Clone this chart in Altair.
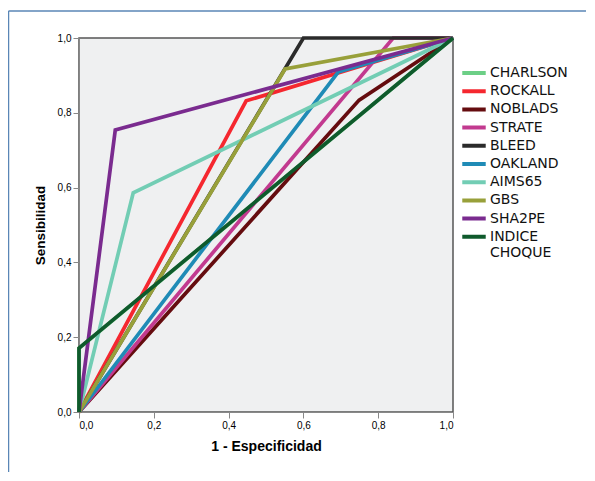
import altair as alt
import pandas as pd

series = ["CHARLSON", "ROCKALL", "NOBLADS", "STRATE", "BLEED", "OAKLAND",
          "AIMS65", "GBS", "SHA2PE", "INDICE CHOQUE"]
colors = ["#6ccf86", "#f5272f", "#650c0f", "#c23a8f", "#2b2b2b", "#1f8bb6",
          "#72cdb4", "#98a03a", "#7a2b8f", "#0f5a2c"]

fpr = {
    "CHARLSON":      [0.0, 0.0, 1.0],
    "ROCKALL":       [0.0, 0.447, 1.0],
    "NOBLADS":       [0.0, 0.749, 1.0],
    "STRATE":        [0.0, 0.84, 1.0],
    "BLEED":         [0.0, 0.60, 1.0],
    "OAKLAND":       [0.0, 0.693, 1.0],
    "AIMS65":        [0.0, 0.145, 1.0],
    "GBS":           [0.0, 0.551, 1.0],
    "SHA2PE":        [0.0, 0.097, 1.0],
    "INDICE CHOQUE": [0.0, 0.0, 1.0],
}
tpr = {
    "CHARLSON":      [0.0, 0.17, 1.0],
    "ROCKALL":       [0.0, 0.832, 1.0],
    "NOBLADS":       [0.0, 0.834, 1.0],
    "STRATE":        [0.0, 1.0, 1.0],
    "BLEED":         [0.0, 1.0, 1.0],
    "OAKLAND":       [0.0, 0.909, 1.0],
    "AIMS65":        [0.0, 0.586, 1.0],
    "GBS":           [0.0, 0.917, 1.0],
    "SHA2PE":        [0.0, 0.754, 1.0],
    "INDICE CHOQUE": [0.0, 0.171, 1.0],
}

rows = []
for s in series:
    for i, (x, y) in enumerate(zip(fpr[s], tpr[s])):
        rows.append({"serie": s, "x": x, "y": y, "i": i})
df = pd.DataFrame(rows)

FONT = "DejaVu Sans"

lines = alt.Chart(df).mark_line(strokeWidth=3.7, clip=False).encode(
    x=alt.X("x:Q", scale=alt.Scale(domain=[0, 1], nice=False),
            axis=alt.Axis(values=[0, 0.2, 0.4, 0.6, 0.8, 1.0], grid=False,
                          labelExpr="replace(format(datum.value, '.1f'), '.', ',')",
                          title="1 - Especificidad", tickSize=6, titlePadding=9,
                          titleFontSize=14)),
    y=alt.Y("y:Q", scale=alt.Scale(domain=[0, 1], nice=False),
            axis=alt.Axis(values=[0, 0.2, 0.4, 0.6, 0.8, 1.0], grid=False,
                          labelExpr="replace(format(datum.value, '.1f'), '.', ',')",
                          title="Sensibilidad", tickSize=6, titlePadding=10,
                          titleFontSize=13.5)),
    color=alt.Color("serie:N", scale=alt.Scale(domain=series, range=colors),
                    sort=series,
                    legend=alt.Legend(
                        title=None, orient="none", legendX=381, legendY=27,
                        symbolType="stroke", symbolStrokeWidth=4, symbolSize=550,
                        clipHeight=16, rowPadding=2.2, padding=0, labelOffset=2,
                        labelFontSize=14, labelFont=FONT, labelColor="#111",
                        labelLimit=200,
                        labelExpr="datum.label == 'INDICE CHOQUE' ? ['INDICE', 'CHOQUE'] : datum.label")),
    order=alt.Order("i:Q"),
    detail="serie:N",
)

frame_df = pd.DataFrame({"k": [0]})
frame_left = alt.Chart(frame_df).mark_rule(color="#5a86b6", strokeWidth=1.5).encode(
    x=alt.value(-70.5), y=alt.value(-27), y2=alt.value(500))
frame_top = alt.Chart(frame_df).mark_rule(color="#5a86b6", strokeWidth=1.5).encode(
    x=alt.value(-70.5), x2=alt.value(600), y=alt.value(-27))

chart = alt.layer(frame_left, frame_top, lines).properties(
    width=374, height=374,
    padding={"left": 71, "top": 30, "right": 133, "bottom": 60},
    autosize=alt.AutoSizeParams(type="none"),
    view=alt.ViewBackground(fill="#eff0f1", stroke="#555555", strokeWidth=1.5),
).configure_axis(
    domainColor="#555555", domainWidth=1.5, tickColor="#555555", tickWidth=1.5,
    labelFont=FONT, labelFontSize=10.5, labelColor="#333333",
    titleFont=FONT, titleFontWeight="bold", titleColor="#111111",
).configure(background="white")

chart.save("out.html", embed_options={"renderer": "svg", "actions": False})
